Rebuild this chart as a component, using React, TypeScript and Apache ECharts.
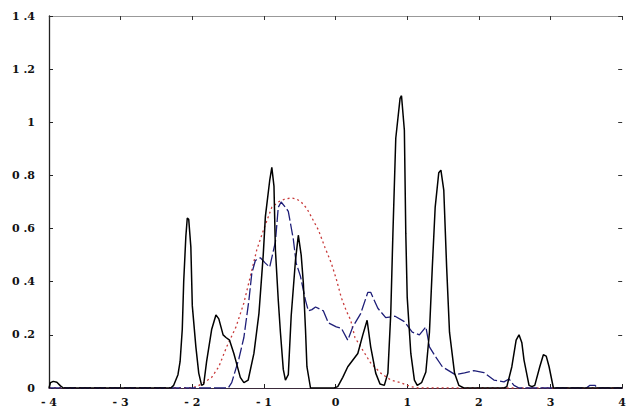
import React, { useEffect, useRef } from "react";
import * as echarts from "echarts";

// [x, density] pairs
const blackSeries: [number, number][] = [
  [-4.0, 0.0], [-3.98, 0.02], [-3.94, 0.025], [-3.89, 0.022], [-3.84, 0.008], [-3.8, 0.0],
  [-2.3, 0.0], [-2.26, 0.01], [-2.2, 0.05], [-2.17, 0.1], [-2.14, 0.22], [-2.12, 0.4],
  [-2.09, 0.57], [-2.07, 0.64], [-2.05, 0.635], [-2.02, 0.53], [-2.0, 0.31], [-1.95, 0.155],
  [-1.91, 0.056], [-1.87, 0.01], [-1.84, 0.015], [-1.8, 0.1], [-1.73, 0.22], [-1.67, 0.275],
  [-1.63, 0.26], [-1.57, 0.2], [-1.53, 0.19], [-1.48, 0.18], [-1.42, 0.13], [-1.39, 0.1],
  [-1.33, 0.04], [-1.28, 0.02], [-1.22, 0.03], [-1.14, 0.13], [-1.07, 0.28], [-1.01, 0.5],
  [-0.98, 0.645], [-0.92, 0.78], [-0.89, 0.83], [-0.86, 0.76], [-0.84, 0.52], [-0.8, 0.33],
  [-0.77, 0.21], [-0.73, 0.07], [-0.7, 0.03], [-0.66, 0.05], [-0.62, 0.27], [-0.56, 0.48],
  [-0.52, 0.575], [-0.48, 0.5], [-0.45, 0.395], [-0.42, 0.22], [-0.4, 0.08], [-0.35, 0.0],
  [-0.02, 0.0], [0.03, 0.005], [0.1, 0.04], [0.17, 0.08], [0.31, 0.13], [0.38, 0.2],
  [0.44, 0.255], [0.49, 0.155], [0.56, 0.056], [0.62, 0.015], [0.68, 0.01], [0.73, 0.056],
  [0.77, 0.28], [0.8, 0.58], [0.84, 0.94], [0.9, 1.09], [0.92, 1.1], [0.96, 0.97],
  [0.98, 0.58], [1.0, 0.34], [1.05, 0.13], [1.1, 0.03], [1.14, 0.01], [1.2, 0.02],
  [1.26, 0.06], [1.31, 0.21], [1.35, 0.455], [1.39, 0.68], [1.44, 0.81], [1.47, 0.82],
  [1.51, 0.745], [1.55, 0.455], [1.59, 0.21], [1.66, 0.056], [1.72, 0.01], [1.79, 0.0],
  [2.35, 0.0], [2.39, 0.005], [2.46, 0.08], [2.52, 0.18], [2.56, 0.2], [2.6, 0.17],
  [2.63, 0.105], [2.7, 0.01], [2.74, 0.005], [2.78, 0.01], [2.85, 0.08], [2.9, 0.125],
  [2.94, 0.12], [2.98, 0.08], [3.04, 0.0], [4.0, 0.0],
];

const blueSeries: [number, number][] = [
  [-4.0, 0.0], [-1.5, 0.0], [-1.45, 0.02], [-1.35, 0.11], [-1.28, 0.19], [-1.21, 0.33],
  [-1.17, 0.43], [-1.12, 0.48], [-1.05, 0.49], [-0.98, 0.47], [-0.92, 0.455], [-0.84, 0.55],
  [-0.8, 0.68], [-0.76, 0.7], [-0.7, 0.68], [-0.66, 0.665], [-0.62, 0.605], [-0.59, 0.56],
  [-0.55, 0.47], [-0.49, 0.42], [-0.42, 0.33], [-0.38, 0.29], [-0.33, 0.295], [-0.28, 0.305],
  [-0.17, 0.29], [-0.1, 0.245], [0.01, 0.23], [0.08, 0.225], [0.17, 0.18], [0.24, 0.23],
  [0.35, 0.28], [0.45, 0.36], [0.49, 0.36], [0.59, 0.3], [0.7, 0.265], [0.83, 0.27],
  [0.96, 0.25], [1.07, 0.21], [1.17, 0.2], [1.26, 0.23], [1.31, 0.155], [1.39, 0.12],
  [1.49, 0.08], [1.67, 0.05], [1.8, 0.057], [1.93, 0.065], [2.07, 0.058], [2.21, 0.03],
  [2.35, 0.023], [2.42, 0.034], [2.49, 0.01], [2.56, 0.0], [3.5, 0.0], [3.55, 0.01],
  [3.62, 0.01], [3.66, 0.0], [4.0, 0.0],
];

const redSeries: [number, number][] = [
  [-4.0, 0.0], [-2.0, 0.0], [-1.92, 0.008], [-1.84, 0.02], [-1.73, 0.04], [-1.63, 0.08],
  [-1.52, 0.155], [-1.39, 0.23], [-1.28, 0.32], [-1.19, 0.42], [-1.1, 0.52], [-1.0, 0.6],
  [-0.89, 0.68], [-0.8, 0.7], [-0.7, 0.712], [-0.62, 0.715], [-0.55, 0.712], [-0.48, 0.7],
  [-0.4, 0.675], [-0.34, 0.645], [-0.24, 0.595], [-0.15, 0.53], [-0.06, 0.47], [0.01, 0.41],
  [0.08, 0.34], [0.15, 0.29], [0.21, 0.256], [0.27, 0.19], [0.35, 0.155], [0.49, 0.094],
  [0.63, 0.056], [0.77, 0.03], [0.91, 0.02], [1.05, 0.005], [1.15, 0.0], [4.0, 0.0],
];

const xMin = -4;
const xMax = 4;
const xStep = 1;
const yMin = 0;
const yMax = 1.4;
const yStep = 0.2;

const fmtY = (v: number): string => {
  if (Math.abs(v - Math.round(v)) < 1e-9) return String(Math.round(v));
  return v.toFixed(1).replace(".", " .");
};
const fmtX = (v: number): string => (v < 0 ? "- " + Math.abs(v) : String(v));

const labelFont = {
  fontFamily: "DejaVu Serif",
  fontSize: 11,
  fontWeight: "bold" as const,
  color: "#111",
};

export default function App() {
  const ref = useRef<HTMLDivElement>(null);
  useEffect(() => {
    if (!ref.current) return;
    const chart = echarts.init(ref.current, undefined, { renderer: "svg" });
    chart.setOption({
      animation: false,
      backgroundColor: "#ffffff",
      grid: { left: 49, right: 3, top: 16, bottom: 23, containLabel: false },
      xAxis: [
        {
          type: "value",
          min: xMin,
          max: xMax,
          interval: xStep,
          position: "bottom",
          axisLine: { show: true, onZero: false, lineStyle: { color: "#3a2a3a", width: 1.2 } },
          axisTick: { show: true, inside: true, length: 4, lineStyle: { color: "#222" } },
          axisLabel: { ...labelFont, margin: 9, formatter: fmtX },
          splitLine: { show: false },
        },
        {
          type: "value",
          min: xMin,
          max: xMax,
          interval: xStep,
          position: "top",
          axisLine: { show: true, onZero: false, lineStyle: { color: "#999", width: 1 } },
          axisTick: { show: true, inside: true, length: 4, lineStyle: { color: "#333" } },
          axisLabel: { show: false },
          splitLine: { show: false },
        },
      ],
      yAxis: [
        {
          type: "value",
          min: yMin,
          max: yMax,
          interval: yStep,
          position: "left",
          axisLine: { show: true, onZero: false, lineStyle: { color: "#222", width: 1.3 } },
          axisTick: { show: true, inside: true, length: 4, lineStyle: { color: "#222" } },
          axisLabel: { ...labelFont, margin: 14, formatter: fmtY },
          splitLine: { show: false },
        },
        {
          type: "value",
          min: yMin,
          max: yMax,
          interval: yStep,
          position: "right",
          axisLine: { show: false, onZero: false },
          axisTick: { show: true, inside: true, length: 4, lineStyle: { color: "#333" } },
          axisLabel: { show: false },
          splitLine: { show: false },
        },
      ],
      series: [
        {
          name: "red",
          type: "line",
          data: redSeries,
          showSymbol: false,
          symbol: "none",
          lineStyle: { color: "#c83a3a", width: 1.3, type: [2, 3] },
          z: 2,
        },
        {
          name: "blue",
          type: "line",
          data: blueSeries,
          showSymbol: false,
          symbol: "none",
          lineStyle: { color: "#1e1e78", width: 1.3, type: [12, 3] },
          z: 3,
        },
        {
          name: "black",
          type: "line",
          data: blackSeries,
          showSymbol: false,
          symbol: "none",
          lineStyle: { color: "#000000", width: 1.5 },
          z: 4,
        },
      ],
    });
    return () => chart.dispose();
  }, []);
  return (
    <div
      ref={ref}
      style={{ position: "fixed", left: 0, top: 0, width: 629, height: 411, background: "#fff" }}
    />
  );
}
